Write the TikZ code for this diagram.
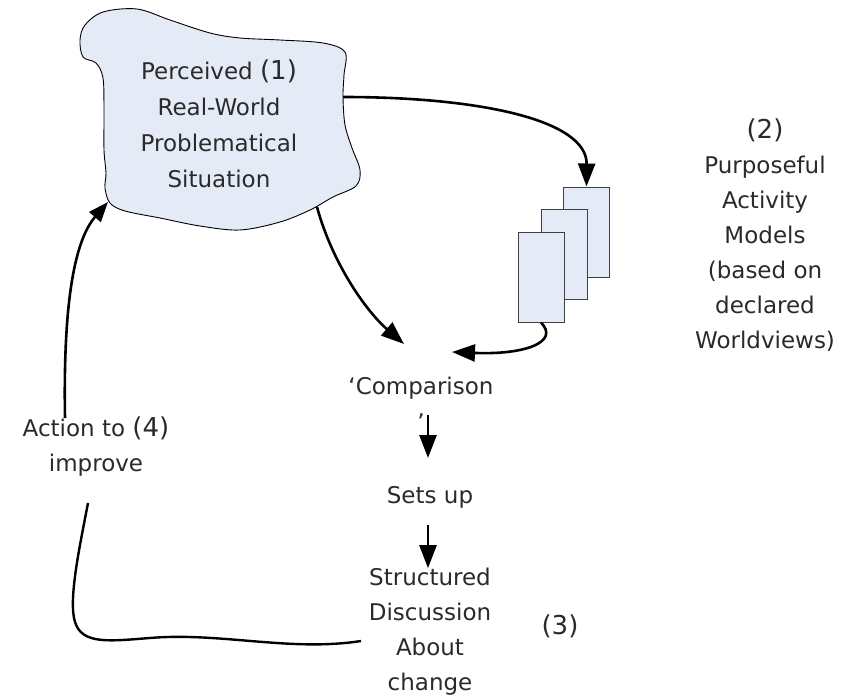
\documentclass[tikz,border=0pt]{standalone}
\usepackage{fontspec}
\setmainfont{DejaVu Sans}
\usetikzlibrary{arrows.meta}
\definecolor{boxfill}{HTML}{E4EAF6}
\definecolor{txt}{HTML}{2A2A2A}
\tikzset{
  cloudshape/.style={draw=black, line width=0.9pt, fill=boxfill},
  modelbox/.style={draw=black!75, line width=1pt, fill=boxfill, minimum width=46pt, minimum height=90pt, inner sep=0pt},
  lbl/.style={align=center, text=txt, inner sep=0pt, font=\fontsize{23}{35}\selectfont},
  conn/.style={line width=2.6pt, -{Triangle[length=23pt,width=17pt]}},
  plainconn/.style={line width=2.4pt},
}
\newcommand{\bignum}[1]{{\fontsize{26}{35}\selectfont #1}}
\begin{document}
\begin{tikzpicture}[x=1pt,y=-1pt]
\useasboundingbox (0,0) rectangle (841,696);
% cloud
\draw[cloudshape] plot[smooth cycle, tension=0.55] coordinates {
 (103,12) (137,9) (170,20) (210,33) (240,38) (280,40) (323,43) (345,52)
 (344,75) (343,97) (345,125) (352,148) (360,170) (356,186) (333,197)
 (310,210) (280,222) (240,230) (200,226) (160,218) (125,211) (110,203)
 (105,188) (106,173) (104,150) (104,110) (103,78) (96,63) (83,57) (80,40) (85,25)};
\node[lbl, font=\fontsize{23}{36}\selectfont] (cloud) at (219,124) {Perceived \bignum{(1)}\\Real-World\\Problematical\\Situation};
% models stack
\node[modelbox] (back) at (586.5,232) {};
\node[modelbox] (mid) at (564,254) {};
\node[modelbox] (front) at (541,277) {};
% texts
\node[lbl] (pam) at (765,235) {\bignum{(2)}\\Purposeful\\Activity\\Models\\(based on\\declared\\Worldviews)};
\node[lbl, font=\fontsize{23}{36}\selectfont] (cmp) at (421,404) {‘Comparison\\’};
\node[lbl] (sets) at (430,497) {Sets up};
\node[lbl] (sd) at (430,632) {Structured\\Discussion\\About\\change};
\node[lbl] (three) at (560,626) {\bignum{(3)}};
\node[lbl] (act) at (96,447) {Action to \bignum{(4)}\\improve};
% connector end points
\coordinate (c1) at (343,97);
\coordinate (c2) at (317,207);
\coordinate (c3) at (108,202);
\coordinate (cmpin1) at (404,344);
\coordinate (cmpin2) at (452,352);
\coordinate (cmpout) at (428,415);
\coordinate (setsin) at (428,458);
\coordinate (setsout) at (428,525);
\coordinate (actout) at (65,418);
\coordinate (dstart) at (361,641);
\coordinate (dend) at (88,503);
% connectors
\draw[conn] (c1) .. controls (480,97) and (587,120) .. (back.north);
\draw[conn] (c2) .. controls (332,262) and (365,310) .. (cmpin1);
\draw[conn] (front.south) .. controls (560,342) and (525,355) .. (cmpin2);
\draw[conn] (cmpout) -- (setsin);
\draw[conn] (setsout) -- (sd.north -| setsout);
\draw[conn, -{Triangle[length=20pt,width=15pt]}] (actout) .. controls (63,300) and (75,240) .. (c3);
\draw[plainconn] (dstart) .. controls (290,652) and (220,632) .. (150,638)
  .. controls (110,641) and (82,645) .. (75,622)
  .. controls (68,600) and (80,545) .. (dend);
\end{tikzpicture}
\end{document}
